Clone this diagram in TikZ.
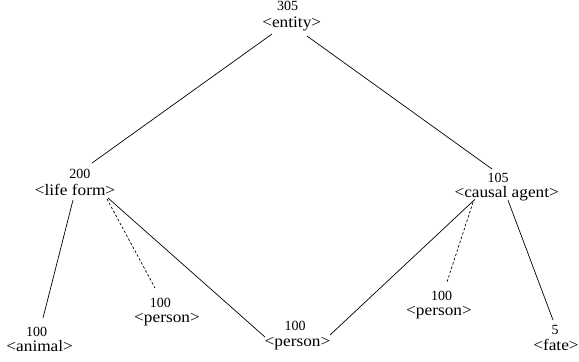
\documentclass[tikz,border=0pt]{standalone}
\usepackage{fontspec}
\setmainfont{Liberation Serif}
\newfontfamily\numfont{Liberation Serif}
\newfontfamily\labfont[FakeStretch=1.08]{Liberation Serif}
\usetikzlibrary{calc}
\begin{document}
\begin{tikzpicture}[x=1bp,y=-1bp,
  num/.style={anchor=base,inner sep=0pt,font=\numfont\fontsize{14bp}{16bp}\selectfont},
  lab/.style={anchor=base,inner sep=0pt,font=\labfont\fontsize{16bp}{18bp}\selectfont},
  edge/.style={line width=0.7bp},
  dashedge/.style={line width=0.7bp,dash pattern=on 2.5bp off 2bp}]
\useasboundingbox (0,0) rectangle (579,361);
% nodes
\node[num] (entityN) at (287.5,10.5) {305};
\node[lab] (entity) at (291.7,27.5) {<entity>};
\node[num] (lifeformN) at (79.8,178) {200};
\node[lab] (lifeform) at (75,195) {<life form>};
\node[num] (causalN) at (498,182.5) {105};
\node[lab] (causal) at (506.7,197.5) {<causal agent>};
\node[num] (animalN) at (36.7,336) {100};
\node[lab] (animal) at (39.7,351) {<animal>};
\node[num] (personLN) at (160.3,307) {100};
\node[lab] (personL) at (167,322) {<person>};
\node[num] (personCN) at (295,330.8) {100};
\node[lab] (personC) at (297.5,346) {<person>};
\node[num] (personRN) at (441.7,300) {100};
\node[lab] (personR) at (439,315) {<person>};
\node[num] (fateN) at (555,334.5) {5};
\node[lab] (fate) at (556,350) {<fate>};
% connectors
\draw[edge] ($(entity.base)+(-19.7,6.5)$) -- ($(lifeformN.base)+(12.2,-15)$);
\draw[edge] ($(entity.base)+(15.3,8.5)$) -- ($(causalN.base)+(-6,-13.5)$);
\draw[edge] ($(lifeform.base)+(-2,5)$) -- ($(animalN.base)+(6.3,-18)$);
\draw[dashedge] ($(lifeform.base)+(32,4)$) -- ($(personLN.base)+(-5.3,-19)$);
\draw[edge] ($(lifeform.base)+(33,3)$) -- ($(personC.base)+(-32.5,-9)$);
\draw[edge] ($(causal.base)+(-31.7,1.8)$) -- ($(personC.base)+(32.5,-11)$);
\draw[dashedge] ($(causal.base)+(-33.7,4.8)$) -- ($(personRN.base)+(5.3,-18)$);
\draw[edge] ($(causal.base)+(1.3,2.8)$) -- ($(fateN.base)+(-2,-14.5)$);
\end{tikzpicture}
\end{document}
